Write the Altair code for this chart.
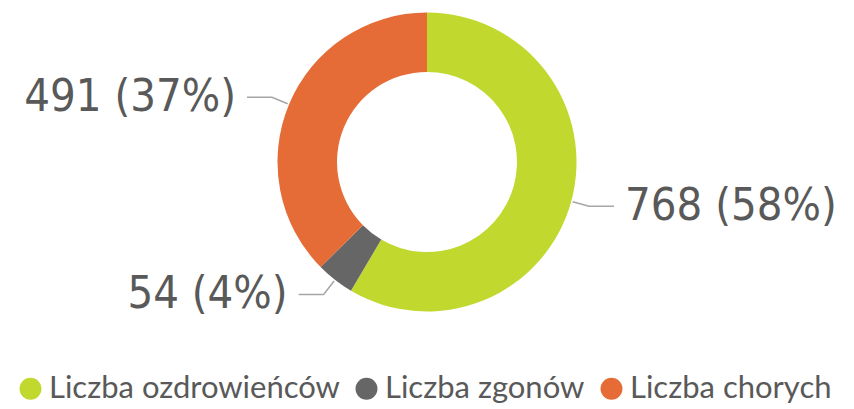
import altair as alt
import pandas as pd
import numpy as np

# ---- data ----
categories = ["Liczba ozdrowieńców", "Liczba zgonów", "Liczba chorych"]
values = [768, 54, 491]
colors = ["#C1D82F", "#666666", "#E56C37"]

# ---- layout (styles / geometry) ----
CX, CY = 427, 162
R_IN, R_OUT = 90, 149.5
R_START, R_ELBOW = 151, 168
HLEN, TGAP = 25, 11
TXT = "#595959"
LABEL_FONT = "DejaVu Sans Condensed, DejaVu Sans, sans-serif"
LEGEND_FONT = "Lato, Open Sans, sans-serif"

arc_df = pd.DataFrame({"category": categories, "value": values, "idx": range(len(values))})

vals = np.array(values, dtype=float)
total = vals.sum()
cum = np.cumsum(vals)
mid = 2 * np.pi * (cum - vals / 2) / total
side = np.sign(np.sin(mid))

line_rows, label_rows = [], []
for i, cat in enumerate(categories):
    sx, sy = CX + R_START * np.sin(mid[i]), CY - R_START * np.cos(mid[i])
    ex, ey = CX + R_ELBOW * np.sin(mid[i]), CY - R_ELBOW * np.cos(mid[i])
    hx = ex + side[i] * HLEN
    for k, (px, py) in enumerate([(sx, sy), (ex, ey), (hx, ey)]):
        line_rows.append({"category": cat, "k": k, "px": px, "py": py})
    pct = int(round(100 * values[i] / total))
    label_rows.append({"category": cat, "label": f"{values[i]} ({pct}%)",
                       "px": hx + side[i] * TGAP, "py": ey, "side": side[i]})
line_df = pd.DataFrame(line_rows)
label_df = pd.DataFrame(label_rows)

arcs = alt.Chart(arc_df).mark_arc(innerRadius=R_IN, outerRadius=R_OUT).encode(
    theta=alt.Theta("value:Q", stack=True),
    order=alt.Order("idx:Q"),
    color=alt.Color("category:N", sort=categories,
                    scale=alt.Scale(domain=categories, range=colors),
                    legend=alt.Legend(title=None, orient="none", legendX=15, legendY=373,
                                      direction="horizontal", symbolType="circle",
                                      symbolSize=480, symbolStrokeWidth=0, symbolOpacity=1,
                                      labelFont=LEGEND_FONT, labelFontSize=31,
                                      labelColor=TXT, labelOffset=3, columnPadding=11,
                                      padding=0, labelLimit=500)),
    x=alt.value(CX), y=alt.value(CY),
)

leaders = alt.Chart(line_df).mark_line(color="#A6A6A6", strokeWidth=1.5).encode(
    x=alt.X("px:Q", scale=None), y=alt.Y("py:Q", scale=None),
    detail="category:N", order="k:Q",
)

txt_right = alt.Chart(label_df).transform_filter("datum.side > 0").mark_text(
    align="left", baseline="middle", font=LABEL_FONT, fontSize=45, color=TXT
).encode(x=alt.X("px:Q", scale=None), y=alt.Y("py:Q", scale=None), text="label:N")

txt_left = alt.Chart(label_df).transform_filter("datum.side < 0").mark_text(
    align="right", baseline="middle", font=LABEL_FONT, fontSize=45, color=TXT
).encode(x=alt.X("px:Q", scale=None), y=alt.Y("py:Q", scale=None), text="label:N")

chart = alt.layer(arcs, leaders, txt_right, txt_left).properties(
    width=854, height=409, autosize=alt.AutoSizeParams(type="none"), padding=0,
    background="white",
).configure_view(stroke=None)

chart.save("out.html", embed_options={"renderer": "svg", "actions": False})
